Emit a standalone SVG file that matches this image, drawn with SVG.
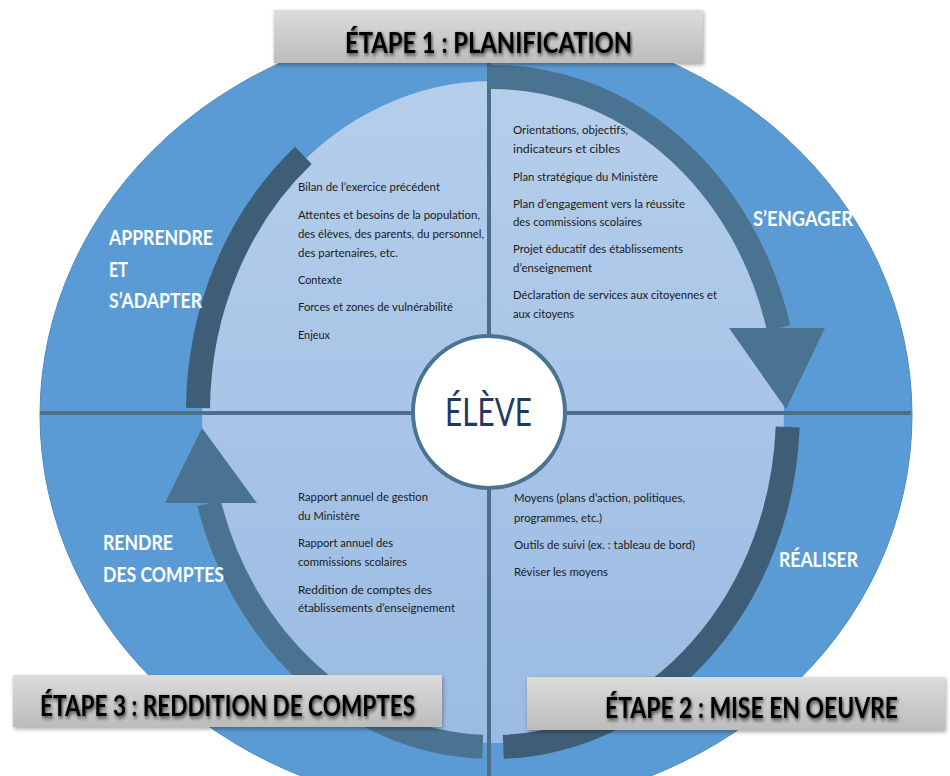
<svg xmlns="http://www.w3.org/2000/svg" width="950" height="776" viewBox="0 0 950 776">
<defs>
  <linearGradient id="innerGrad" x1="0" y1="0" x2="0" y2="1">
    <stop offset="0" stop-color="#B5CEEB"/>
    <stop offset="1" stop-color="#9BBBE3"/>
  </linearGradient>
  <linearGradient id="banGrad" x1="0" y1="0" x2="0" y2="1">
    <stop offset="0" stop-color="#DCDCDC"/>
    <stop offset="1" stop-color="#BCBCBC"/>
  </linearGradient>
  <filter id="glow" x="-10%" y="-40%" width="120%" height="180%">
    <feGaussianBlur in="SourceAlpha" stdDeviation="1.6" result="b"/>
    <feOffset in="b" dx="1" dy="1.5" result="o"/>
    <feComponentTransfer in="o" result="s"><feFuncA type="linear" slope="0.75"/></feComponentTransfer>
    <feMerge><feMergeNode in="s"/><feMergeNode in="SourceGraphic"/></feMerge>
  </filter>
  <filter id="bshadow" x="-5%" y="-20%" width="110%" height="150%">
    <feGaussianBlur in="SourceAlpha" stdDeviation="2" result="b"/>
    <feOffset in="b" dx="1" dy="2" result="o"/>
    <feComponentTransfer in="o" result="s"><feFuncA type="linear" slope="0.35"/></feComponentTransfer>
    <feMerge><feMergeNode in="s"/><feMergeNode in="SourceGraphic"/></feMerge>
  </filter>
</defs>
<style>
  .body { font-family: Lato, "Open Sans", "Liberation Sans", sans-serif; font-size: 12px; fill: #1A1A1A; }
  .lbl { font-family: Lato, "Open Sans", "Liberation Sans", sans-serif; font-weight: 700; font-size: 21px; fill: #FFFFFF; }
  .ban { font-family: Lato, "Open Sans", "Liberation Sans", sans-serif; font-weight: 700; font-size: 24px; fill: #000000; filter: url(#glow); text-anchor: middle; }
  .banbox { fill: url(#banGrad); filter: url(#bshadow); }
  .arcDark { fill: none; stroke: #3E5E78; stroke-width: 24; }
  .arcArrow { fill: none; stroke: #4A7391; stroke-width: 24; }
  .head { fill: #4A7391; }
  .divider { stroke: #4A6E8C; stroke-width: 4; fill: none; }
</style>

<!-- background shapes -->
<ellipse id="outer" cx="476" cy="415" rx="436" ry="394" fill="#5B9BD5" stroke="#5089C0" stroke-width="1"/>
<ellipse id="inner" cx="493" cy="412" rx="291" ry="331" fill="url(#innerGrad)"/>

<g id="connectors">
  <line class="divider" x1="489" y1="60" x2="489" y2="776"/>
  <line class="divider" x1="40" y1="413" x2="911" y2="413"/>
  <path class="arcArrow" d="M488,77 A295,335 0 0 1 778.6,328"/>
  <polygon class="head" points="729,328 825,328 786,409"/>
  <path class="arcDark" d="M787.7,427 A295,335 0 0 1 503.3,746.8"/>
  <path class="arcArrow" d="M482.7,746.8 A295,335 0 0 1 209.1,503.2"/>
  <polygon class="head" points="165,503 257,503 202,428"/>
  <path class="arcDark" d="M198,408 A295,335 0 0 1 303.4,155.4"/>
</g>

<g id="center-eleve">
  <circle cx="489" cy="412" r="76" fill="#FFFFFF" stroke="#4A7391" stroke-width="4"/>
  <text x="445" y="426" textLength="87" lengthAdjust="spacingAndGlyphs" style="font-family: Lato, 'Open Sans', 'Liberation Sans', sans-serif; font-size: 39px; fill: #1F3864;">ÉLÈVE</text>
</g>

<g id="text-planif-left">
  <text class="body" x="298" y="191" textLength="142" lengthAdjust="spacingAndGlyphs">Bilan de l’exercice précédent</text>
  <text class="body" x="298" y="219" textLength="182" lengthAdjust="spacingAndGlyphs">Attentes et besoins de la population,</text>
  <text class="body" x="298" y="238" textLength="186" lengthAdjust="spacingAndGlyphs">des élèves, des parents, du personnel,</text>
  <text class="body" x="298" y="257" textLength="100" lengthAdjust="spacingAndGlyphs">des partenaires, etc.</text>
  <text class="body" x="298" y="284" textLength="44" lengthAdjust="spacingAndGlyphs">Contexte</text>
  <text class="body" x="298" y="311" textLength="155" lengthAdjust="spacingAndGlyphs">Forces et zones de vulnérabilité</text>
  <text class="body" x="298" y="339" textLength="32" lengthAdjust="spacingAndGlyphs">Enjeux</text>
</g>

<g id="text-planif-right">
  <text class="body" x="513" y="134" textLength="115" lengthAdjust="spacingAndGlyphs">Orientations, objectifs,</text>
  <text class="body" x="513" y="153" textLength="107" lengthAdjust="spacingAndGlyphs">indicateurs et cibles</text>
  <text class="body" x="513" y="181" textLength="145" lengthAdjust="spacingAndGlyphs">Plan stratégique du Ministère</text>
  <text class="body" x="513" y="208" textLength="172" lengthAdjust="spacingAndGlyphs">Plan d’engagement vers la réussite</text>
  <text class="body" x="513" y="226" textLength="129" lengthAdjust="spacingAndGlyphs">des commissions scolaires</text>
  <text class="body" x="513" y="253" textLength="170" lengthAdjust="spacingAndGlyphs">Projet éducatif des établissements</text>
  <text class="body" x="513" y="272" textLength="79" lengthAdjust="spacingAndGlyphs">d’enseignement</text>
  <text class="body" x="513" y="299" textLength="204" lengthAdjust="spacingAndGlyphs">Déclaration de services aux citoyennes et</text>
  <text class="body" x="513" y="318" textLength="61" lengthAdjust="spacingAndGlyphs">aux citoyens</text>
</g>

<g id="text-reddition">
  <text class="body" x="298" y="501" textLength="130" lengthAdjust="spacingAndGlyphs">Rapport annuel de gestion</text>
  <text class="body" x="298" y="520" textLength="62" lengthAdjust="spacingAndGlyphs">du Ministère</text>
  <text class="body" x="298" y="547" textLength="95" lengthAdjust="spacingAndGlyphs">Rapport annuel des</text>
  <text class="body" x="298" y="566" textLength="109" lengthAdjust="spacingAndGlyphs">commissions scolaires</text>
  <text class="body" x="298" y="594" textLength="134" lengthAdjust="spacingAndGlyphs">Reddition de comptes des</text>
  <text class="body" x="298" y="612" textLength="157" lengthAdjust="spacingAndGlyphs">établissements d’enseignement</text>
</g>

<g id="text-mise-en-oeuvre">
  <text class="body" x="514" y="502" textLength="171" lengthAdjust="spacingAndGlyphs">Moyens (plans d’action, politiques,</text>
  <text class="body" x="514" y="522" textLength="88" lengthAdjust="spacingAndGlyphs">programmes, etc.)</text>
  <text class="body" x="514" y="549" textLength="181" lengthAdjust="spacingAndGlyphs">Outils de suivi (ex. : tableau de bord)</text>
  <text class="body" x="514" y="576" textLength="94" lengthAdjust="spacingAndGlyphs">Réviser les moyens</text>
</g>

<g id="label-apprendre">
  <text class="lbl" x="109" y="245" textLength="104" lengthAdjust="spacingAndGlyphs">APPRENDRE</text>
  <text class="lbl" x="109" y="277" textLength="19" lengthAdjust="spacingAndGlyphs">ET</text>
  <text class="lbl" x="109" y="308" textLength="93" lengthAdjust="spacingAndGlyphs">S’ADAPTER</text>
</g>
<g id="label-sengager">
  <text class="lbl" x="753" y="226" textLength="100" lengthAdjust="spacingAndGlyphs">S’ENGAGER</text>
</g>
<g id="label-realiser">
  <text class="lbl" x="779" y="567" textLength="79" lengthAdjust="spacingAndGlyphs">RÉALISER</text>
</g>
<g id="label-rendre">
  <text class="lbl" x="103" y="550" textLength="70" lengthAdjust="spacingAndGlyphs">RENDRE</text>
  <text class="lbl" x="103" y="582" textLength="121" lengthAdjust="spacingAndGlyphs">DES COMPTES</text>
</g>

<g id="banner-etape1">
  <rect class="banbox" x="274" y="10" width="429" height="53"/>
  <text class="ban" transform="translate(488.5,53) scale(1,1.17)" x="0" y="0" textLength="287" lengthAdjust="spacingAndGlyphs">ÉTAPE 1 : PLANIFICATION</text>
</g>
<g id="banner-etape3">
  <rect class="banbox" x="13" y="675" width="429" height="52"/>
  <text class="ban" transform="translate(227.5,716) scale(1,1.17)" x="0" y="0" textLength="375" lengthAdjust="spacingAndGlyphs">ÉTAPE 3 : REDDITION DE COMPTES</text>
</g>
<g id="banner-etape2">
  <rect class="banbox" x="527" y="677" width="418" height="53"/>
  <text class="ban" transform="translate(751.5,718) scale(1,1.17)" x="0" y="0" textLength="293" lengthAdjust="spacingAndGlyphs">ÉTAPE 2 : MISE EN OEUVRE</text>
</g>
</svg>
